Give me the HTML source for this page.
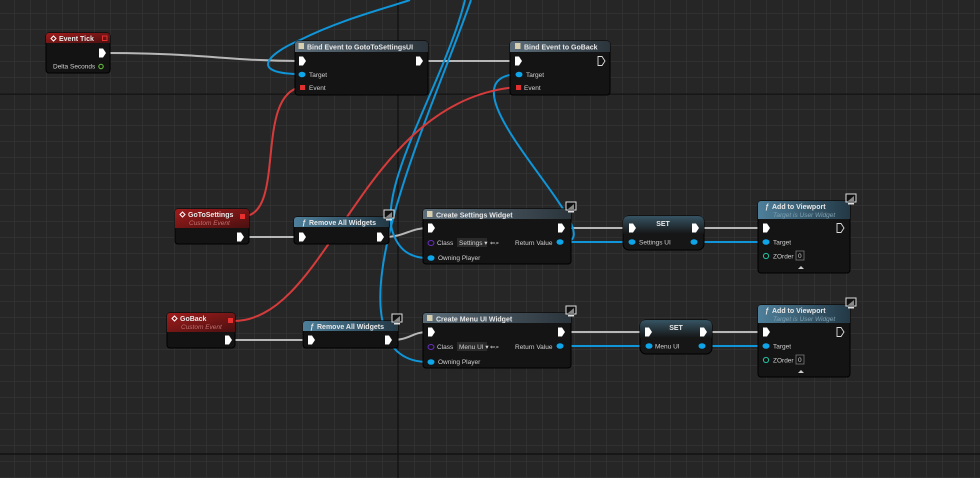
<!DOCTYPE html>
<html><head><meta charset="utf-8"><style>
html,body{margin:0;padding:0;background:#262626;}
svg{display:block;font-family:"Liberation Sans",sans-serif;}
.t{fill:#e8e8e8;font-size:7px;font-weight:bold;}
.p{fill:#d0d0d0;font-size:6.5px;}
.s{fill:#7fa0b0;font-size:6.5px;font-style:italic;}
.se{fill:#c07070;font-size:6.5px;font-style:italic;}
</style></head><body>
<svg width="980" height="478" viewBox="0 0 980 478" xmlns="http://www.w3.org/2000/svg">
<defs>
<pattern id="g" x="14" y="13" width="16" height="16" patternUnits="userSpaceOnUse">
<path d="M0 0H16M0 0V16" stroke="#393939" stroke-width="1" fill="none"/>
</pattern>
<linearGradient id="red" x1="0" y1="0" x2="1" y2="1"><stop offset="0" stop-color="#a11c1c"/><stop offset="1" stop-color="#4a1010"/></linearGradient>
<linearGradient id="fn" x1="0" y1="0" x2="1" y2="0"><stop offset="0" stop-color="#4e7f9a"/><stop offset="1" stop-color="#233845"/></linearGradient>
<linearGradient id="bd" x1="0" y1="0" x2="1" y2="0"><stop offset="0" stop-color="#5b6c78"/><stop offset="1" stop-color="#2b343b"/></linearGradient>
<linearGradient id="set" x1="0" y1="0" x2="0" y2="1"><stop offset="0" stop-color="#3f6478"/><stop offset="1" stop-color="#151515"/></linearGradient>
<g id="ex"><path d="M-3,-4.5 H1 L4,0 L1,4.5 H-3Z" fill="#fff"/></g>
<g id="exo"><path d="M-3,-4.5 H1 L4,0 L1,4.5 H-3Z" fill="none" stroke="#ddd" stroke-width="0.9"/></g>
<g id="bp"><ellipse cx="0" cy="0" rx="3.5" ry="2.8" fill="#0ea5e9"/></g>
<g id="mon"><rect x="-5" y="-6" width="10" height="8" fill="#111" stroke="#ddd" stroke-width="1"/><path d="M-3,1 L3,-4 L3,1Z" fill="#888"/><rect x="-3" y="3" width="6" height="1.5" fill="#ddd"/></g>
</defs>
<rect width="980" height="478" fill="#262626"/>
<rect width="980" height="478" fill="url(#g)"/>
<path d="M398 0V478M0 94H980M0 454H980" stroke="#0f0f0f" stroke-width="1.2"/>

<!-- wires -->
<g fill="none" stroke-width="2">
<g stroke="#b8b8b8">
<path d="M106,53 C200,53 230,61 299,61"/>
<path d="M423,61 H515"/>
<path d="M243,237 H299"/>
<path d="M384,237 C405,237 410,228 428,228"/>
<path d="M566,228 H629"/>
<path d="M698,228 H764"/>
<path d="M231,340 H308"/>
<path d="M392,340 C410,340 412,332 428,332"/>
<path d="M566,332 H646"/>
<path d="M706,332 H764"/>
</g>
<g stroke="#0f95d8">
<path d="M563,242 H629"/>
<path d="M698,242 H764"/>
<path d="M563,346 H646"/>
<path d="M706,346 H764"/>
<path d="M563,242 C620,242 430,80 517,74"/>
<path d="M301,74 C250,74 265,55 300,40 C340,20 380,10 410,0"/>
<path d="M465,0 C445,80 380,180 392,230 C398,250 410,258 428,258"/>
<path d="M471,0 C440,90 360,260 385,330 C390,350 405,362 428,362"/>
</g>
<g stroke="#d63b3b">
<path d="M246,216 C285,210 255,95 301,87"/>
<path d="M233,321 C330,321 360,100 517,87"/>
</g>
</g>

<!-- Event Tick -->
<rect x="46" y="33" width="64" height="40" rx="3" fill="#131313" stroke="#000"/>
<path d="M49,33 H107 Q110,33 110,36 V43 H46 V36 Q46,33 49,33Z" fill="url(#red)"/>
<path d="M51,38.5 L53.5,36 L56,38.5 L53.5,41Z" fill="none" stroke="#fff" stroke-width="1"/>
<text x="59" y="41" class="t">Event Tick</text>
<rect x="102.5" y="36" width="4.5" height="4.5" fill="none" stroke="#e03030" stroke-width="1"/>
<use href="#ex" x="102" y="53"/>
<text x="53" y="68.5" class="p">Delta Seconds</text>
<circle cx="101" cy="66.5" r="2.2" fill="none" stroke="#6ad040" stroke-width="1"/>

<!-- Bind Event 1 -->
<rect x="295" y="41" width="133" height="54" rx="3" fill="#141414" stroke="#000"/>
<path d="M298,41 H425 Q428,41 428,44 V52 H295 V44 Q295,41 298,41Z" fill="url(#bd)"/>
<rect x="298.5" y="43" width="5.5" height="6" fill="#d8cfb0"/>
<text x="307" y="49.5" class="t">Bind Event to GotoToSettingsUI</text>
<use href="#ex" x="302" y="61"/><use href="#ex" x="419" y="61"/>
<use href="#bp" x="302" y="74.5"/><text x="309" y="77" class="p">Target</text>
<rect x="300" y="85" width="5" height="5" fill="#e03030"/><text x="309" y="90" class="p">Event</text>

<!-- Bind Event 2 -->
<rect x="510" y="41" width="100" height="54" rx="3" fill="#141414" stroke="#000"/>
<path d="M513,41 H607 Q610,41 610,44 V52 H510 V44 Q510,41 513,41Z" fill="url(#bd)"/>
<rect x="515" y="43" width="5.5" height="6" fill="#d8cfb0"/>
<text x="524" y="49.5" class="t">Bind Event to GoBack</text>
<use href="#ex" x="518" y="61"/><use href="#exo" x="601" y="61"/>
<use href="#bp" x="519" y="74.5"/><text x="526" y="77" class="p">Target</text>
<rect x="516" y="85" width="5" height="5" fill="#e03030"/><text x="524" y="90" class="p">Event</text>

<!-- GoToSettings -->
<rect x="175" y="209" width="74" height="35" rx="3" fill="#131313" stroke="#000"/>
<path d="M178,209 H246 Q249,209 249,212 V228 H175 V212 Q175,209 178,209Z" fill="url(#red)"/>
<path d="M180,214.5 L182.5,212 L185,214.5 L182.5,217Z" fill="none" stroke="#fff" stroke-width="1"/>
<text x="188" y="217" class="t">GoToSettings</text>
<text x="189" y="225" class="se">Custom Event</text>
<rect x="240" y="214" width="5" height="5" fill="#e83030"/>
<use href="#ex" x="240" y="237"/>

<!-- Remove All Widgets 1 -->
<rect x="294" y="217" width="95" height="27" rx="3" fill="#131313" stroke="#000"/>
<path d="M297,217 H386 Q389,217 389,220 V227 H294 V220 Q294,217 297,217Z" fill="url(#fn)"/>
<text x="302" y="225" class="t" font-style="italic">ƒ</text><text x="309" y="225" class="t">Remove All Widgets</text>
<use href="#mon" x="389" y="216"/>
<use href="#ex" x="302" y="237"/><use href="#ex" x="380" y="237"/>

<!-- Create Settings Widget -->
<rect x="423" y="209" width="148" height="55" rx="3" fill="#141414" stroke="#000"/>
<path d="M426,209 H568 Q571,209 571,212 V219 H423 V212 Q423,209 426,209Z" fill="url(#bd)"/>
<rect x="427" y="211" width="5.5" height="6" fill="#d8cfb0"/>
<text x="436" y="217.5" class="t">Create Settings Widget</text>
<use href="#mon" x="571" y="208"/>
<use href="#ex" x="431" y="228"/><use href="#ex" x="561" y="228"/>
<ellipse cx="431" cy="243" rx="3" ry="2.5" fill="none" stroke="#6a2fbf" stroke-width="1"/>
<text x="437" y="245" class="p">Class</text>
<rect x="457" y="238" width="30" height="9" fill="#2a2a2a"/><text x="459" y="245" class="p" font-size="5" fill="#999">Settings ▾</text>
<text x="490" y="245" class="p" fill="#555">⇐⌕</text>
<text x="515" y="245" class="p">Return Value</text><use href="#bp" x="560" y="242"/>
<use href="#bp" x="431" y="258"/><text x="438" y="260" class="p">Owning Player</text>

<!-- SET 1 -->
<rect x="623" y="216" width="81" height="34" rx="6" fill="#161616" stroke="#000"/>
<path d="M629,216 H698 Q704,216 704,222 V234 H623 V222 Q623,216 629,216Z" fill="url(#set)" opacity="0.8"/>
<text x="663" y="226" class="t" text-anchor="middle">SET</text>
<use href="#ex" x="632" y="228"/><use href="#ex" x="695" y="228"/>
<use href="#bp" x="632" y="242"/><text x="639" y="244.5" class="p">Settings UI</text>
<use href="#bp" x="694" y="242"/>

<!-- Add to Viewport 1 -->
<rect x="758" y="201" width="92" height="72" rx="3" fill="#141414" stroke="#000"/>
<path d="M761,201 H847 Q850,201 850,204 V219 H758 V204 Q758,201 761,201Z" fill="url(#fn)"/>
<text x="765" y="209" class="t" font-style="italic">ƒ</text><text x="772" y="209" class="t">Add to Viewport</text>
<text x="773" y="217" class="s">Target is User Widget</text>
<use href="#mon" x="851" y="200"/>
<use href="#ex" x="766" y="228"/><use href="#exo" x="840" y="228"/>
<use href="#bp" x="766" y="242"/><text x="773" y="244.5" class="p">Target</text>
<circle cx="766" cy="256" r="2.6" fill="none" stroke="#20c0a0" stroke-width="1"/>
<text x="773" y="258.5" class="p">ZOrder</text><rect x="796" y="251" width="8" height="9" fill="none" stroke="#777" stroke-width="0.8"/><text x="798" y="258" class="p" font-size="6">0</text>
<path d="M801,266 L804,269 H798Z" fill="#ccc"/>

<!-- GoBack -->
<rect x="167" y="313" width="68" height="35" rx="3" fill="#131313" stroke="#000"/>
<path d="M170,313 H232 Q235,313 235,316 V332 H167 V316 Q167,313 170,313Z" fill="url(#red)"/>
<path d="M172,318.5 L174.5,316 L177,318.5 L174.5,321Z" fill="none" stroke="#fff" stroke-width="1"/>
<text x="180" y="321" class="t">GoBack</text>
<text x="181" y="329" class="se">Custom Event</text>
<rect x="228" y="318" width="5" height="5" fill="#e83030"/>
<use href="#ex" x="228" y="340"/>

<!-- Remove All Widgets 2 -->
<rect x="303" y="321" width="95" height="27" rx="3" fill="#131313" stroke="#000"/>
<path d="M306,321 H395 Q398,321 398,324 V331 H303 V324 Q303,321 306,321Z" fill="url(#fn)"/>
<text x="310" y="329" class="t" font-style="italic">ƒ</text><text x="317" y="329" class="t">Remove All Widgets</text>
<use href="#mon" x="397" y="320"/>
<use href="#ex" x="311" y="340"/><use href="#ex" x="388" y="340"/>

<!-- Create Menu UI Widget -->
<rect x="423" y="313" width="148" height="55" rx="3" fill="#141414" stroke="#000"/>
<path d="M426,313 H568 Q571,313 571,316 V323 H423 V316 Q423,313 426,313Z" fill="url(#bd)"/>
<rect x="427" y="315" width="5.5" height="6" fill="#d8cfb0"/>
<text x="436" y="321.5" class="t">Create Menu UI Widget</text>
<use href="#mon" x="571" y="312"/>
<use href="#ex" x="431" y="332"/><use href="#ex" x="561" y="332"/>
<ellipse cx="431" cy="347" rx="3" ry="2.5" fill="none" stroke="#6a2fbf" stroke-width="1"/>
<text x="437" y="349" class="p">Class</text>
<rect x="457" y="342" width="30" height="9" fill="#2a2a2a"/><text x="459" y="349" class="p" font-size="5" fill="#999">Menu UI ▾</text>
<text x="490" y="349" class="p" fill="#555">⇐⌕</text>
<text x="515" y="349" class="p">Return Value</text><use href="#bp" x="560" y="346"/>
<use href="#bp" x="431" y="362"/><text x="438" y="364" class="p">Owning Player</text>

<!-- SET 2 -->
<rect x="640" y="320" width="72" height="34" rx="6" fill="#161616" stroke="#000"/>
<path d="M646,320 H706 Q712,320 712,326 V338 H640 V326 Q640,320 646,320Z" fill="url(#set)" opacity="0.8"/>
<text x="676" y="330" class="t" text-anchor="middle">SET</text>
<use href="#ex" x="648" y="332"/><use href="#ex" x="703" y="332"/>
<use href="#bp" x="649" y="346"/><text x="655" y="348.5" class="p">Menu UI</text>
<use href="#bp" x="702" y="346"/>

<!-- Add to Viewport 2 -->
<rect x="758" y="305" width="92" height="72" rx="3" fill="#141414" stroke="#000"/>
<path d="M761,305 H847 Q850,305 850,308 V323 H758 V308 Q758,305 761,305Z" fill="url(#fn)"/>
<text x="765" y="313" class="t" font-style="italic">ƒ</text><text x="772" y="313" class="t">Add to Viewport</text>
<text x="773" y="321" class="s">Target is User Widget</text>
<use href="#mon" x="851" y="304"/>
<use href="#ex" x="766" y="332"/><use href="#exo" x="840" y="332"/>
<use href="#bp" x="766" y="346"/><text x="773" y="348.5" class="p">Target</text>
<circle cx="766" cy="360" r="2.6" fill="none" stroke="#20c0a0" stroke-width="1"/>
<text x="773" y="362.5" class="p">ZOrder</text><rect x="796" y="355" width="8" height="9" fill="none" stroke="#777" stroke-width="0.8"/><text x="798" y="362" class="p" font-size="6">0</text>
<path d="M801,370 L804,373 H798Z" fill="#ccc"/>
</svg>
</body></html>
